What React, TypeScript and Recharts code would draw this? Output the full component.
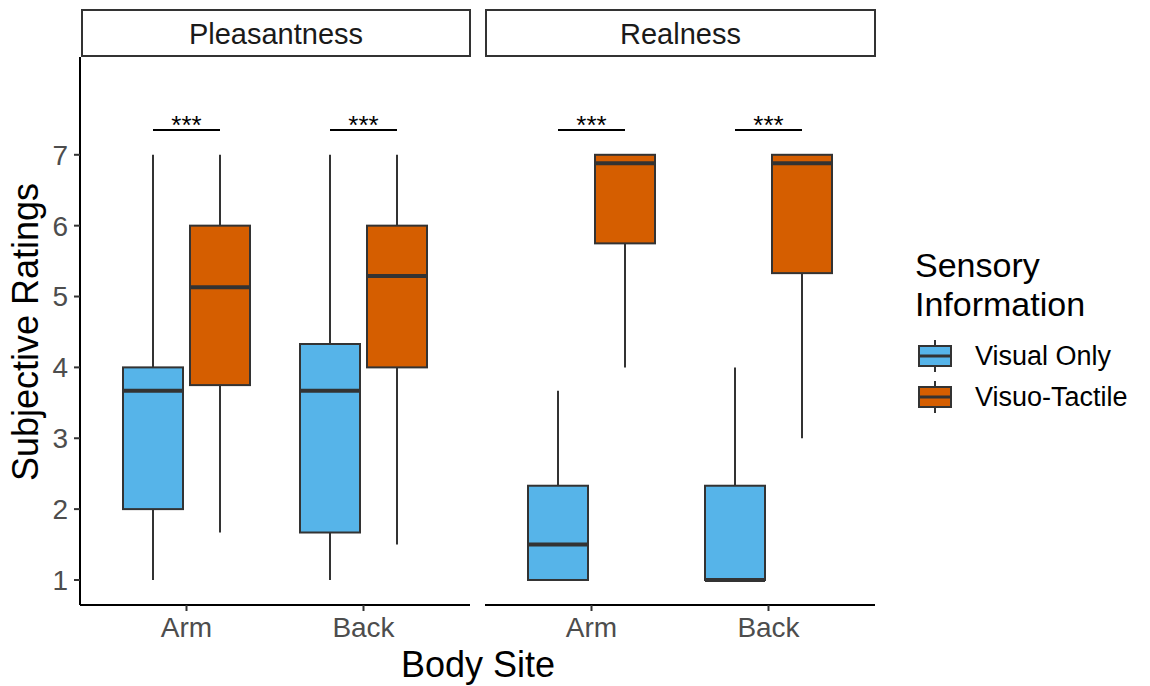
import React from 'react';
import { ComposedChart, Bar, XAxis, YAxis } from 'recharts';

// ---- data ----
const sites = ['Arm', 'Back'];
const facets = ['Pleasantness', 'Realness'];
const groups = ['Visual Only', 'Visuo-Tactile'];
const groupColors = ['#56B4E9', '#D55E00'];
const yTicks = [1, 2, 3, 4, 5, 6, 7];
const legendTitle = ['Sensory', 'Information'];

// [min, q1, median, q3, max] for Arm, Back
const pleasantVisual = [[1, 2, 3.67, 4, 7], [1, 1.67, 3.67, 4.33, 7]];
const pleasantTactile = [[1.67, 3.75, 5.13, 6, 7], [1.5, 4, 5.29, 6, 7]];
const realVisual = [[1, 1, 1.5, 2.33, 3.67], [1, 1, 1, 2.33, 4]];
const realTactile = [[4, 5.75, 6.88, 7, 7], [3, 5.33, 6.88, 7, 7]];
const pleasantSig = ['***', '***'];
const realSig = ['***', '***'];
const sigLevel = 7.35;

const makeRows = (vis: number[][], tac: number[][], sig: string[]) =>
  sites.map((s, i) => ({
    site: s,
    visual: [vis[i][0], vis[i][4]],
    tactile: [tac[i][0], tac[i][4]],
    vStats: vis[i],
    tStats: tac[i],
    sig: sig[i],
  }));

const facetData = [
  makeRows(pleasantVisual, pleasantTactile, pleasantSig),
  makeRows(realVisual, realTactile, realSig),
];

const FONT = '"Liberation Sans", Arial, Helvetica, sans-serif';
const BAR_SIZE = 60;
const BAR_GAP = 7;
const Y_DOMAIN: [number, number] = [0.647, 8.38];

const BoxShape = (props: any) => {
  const { x, y, width, height, payload, statsKey, fill, withSig } = props;
  const s: number[] = payload[statsKey];
  const top = Math.min(y, y + height);
  const h = Math.abs(height);
  const [mn, q1, med, q3, mx] = s;
  const py = (v: number) => top + (h * (mx - v)) / (mx - mn);
  const cx = x + width / 2;
  const stroke = '#333333';
  return (
    <g>
      <line x1={cx} x2={cx} y1={py(mx)} y2={py(q3)} stroke={stroke} strokeWidth={2} />
      <line x1={cx} x2={cx} y1={py(q1)} y2={py(mn)} stroke={stroke} strokeWidth={2} />
      <rect x={x} y={py(q3)} width={width} height={Math.max(0, py(q1) - py(q3))} fill={fill} stroke={stroke} strokeWidth={2} />
      <line x1={x} x2={x + width} y1={py(med)} y2={py(med)} stroke={stroke} strokeWidth={4} />
      {withSig ? (
        <g>
          <line x1={cx} x2={cx + width + BAR_GAP} y1={py(sigLevel)} y2={py(sigLevel)} stroke="#000" strokeWidth={2} />
          <text x={cx + (width + BAR_GAP) / 2} y={py(sigLevel) + 4} textAnchor="middle" fontSize={26} fontFamily={FONT} fill="#000">
            {payload.sig}
          </text>
        </g>
      ) : null}
    </g>
  );
};

const tickStyle = { fill: '#4D4D4D', fontSize: 28, fontFamily: FONT };

const Facet = ({ idx, left }: { idx: number; left: number }) => {
  const showY = idx === 0;
  const width = showY ? 470 : 390;
  return (
    <div style={{ position: 'absolute', left, top: 0 }}>
      <ComposedChart
        width={width}
        height={686}
        data={facetData[idx]}
        margin={{ top: 57, right: 0, bottom: 41, left: 0 }}
        barSize={BAR_SIZE}
        barGap={BAR_GAP}
      >
        <XAxis
          dataKey="site"
          height={40}
          padding={{ left: 18, right: 18 }}
          tickSize={6}
          tickMargin={6}
          tick={tickStyle}
          axisLine={{ stroke: '#000', strokeWidth: 2 }}
          tickLine={{ stroke: '#333', strokeWidth: 2 }}
        />
        <YAxis
          type="number"
          domain={Y_DOMAIN}
          allowDataOverflow
          ticks={yTicks}
          hide={!showY}
          width={80}
          tickSize={6}
          tickMargin={6}
          tick={tickStyle}
          axisLine={{ stroke: '#000', strokeWidth: 2 }}
          tickLine={{ stroke: '#333', strokeWidth: 2 }}
        />
        <Bar
          dataKey="visual"
          isAnimationActive={false}
          shape={(p: any) => <BoxShape {...p} statsKey="vStats" fill={groupColors[0]} withSig />}
        />
        <Bar
          dataKey="tactile"
          isAnimationActive={false}
          shape={(p: any) => <BoxShape {...p} statsKey="tStats" fill={groupColors[1]} />}
        />
      </ComposedChart>
    </div>
  );
};

const strips = [
  { x: 82, w: 388 },
  { x: 486, w: 389 },
];

export default function App() {
  return (
    <div style={{ position: 'absolute', left: 0, top: 0, width: 1150, height: 686, background: '#fff', fontFamily: FONT }}>
      <Facet idx={0} left={0} />
      <Facet idx={1} left={485} />
      <svg width={1150} height={686} style={{ position: 'absolute', left: 0, top: 0, pointerEvents: 'none' }}>
        {facets.map((f, i) => (
          <g key={f}>
            <rect x={strips[i].x} y={10} width={strips[i].w} height={46} fill="#fff" stroke="#333" strokeWidth={2} />
            <text x={strips[i].x + strips[i].w / 2} y={34} dominantBaseline="central" textAnchor="middle" fontSize={29} fill="#1A1A1A" fontFamily={FONT}>
              {f}
            </text>
          </g>
        ))}
        <text transform="translate(38,332) rotate(-90)" textAnchor="middle" fontSize={36} fill="#000" fontFamily={FONT}>
          Subjective Ratings
        </text>
        <text x={478} y={677} textAnchor="middle" fontSize={36} fill="#000" fontFamily={FONT}>
          Body Site
        </text>
        {legendTitle.map((t, i) => (
          <text key={t} x={915} y={277 + i * 39} fontSize={34} fill="#000" fontFamily={FONT}>{t}</text>
        ))}
        {groups.map((g, i) => {
          const cy = 356 + i * 41;
          return (
            <g key={g}>
              <line x1={935} x2={935} y1={cy - 16} y2={cy + 16} stroke="#333" strokeWidth={2} />
              <rect x={919} y={cy - 10} width={32} height={20} fill={groupColors[i]} stroke="#333" strokeWidth={2} />
              <line x1={919} x2={951} y1={cy} y2={cy} stroke="#333" strokeWidth={3} />
              <text x={975} y={cy} dominantBaseline="central" fontSize={27} fill="#000" fontFamily={FONT}>
                {g}
              </text>
            </g>
          );
        })}
      </svg>
    </div>
  );
}
